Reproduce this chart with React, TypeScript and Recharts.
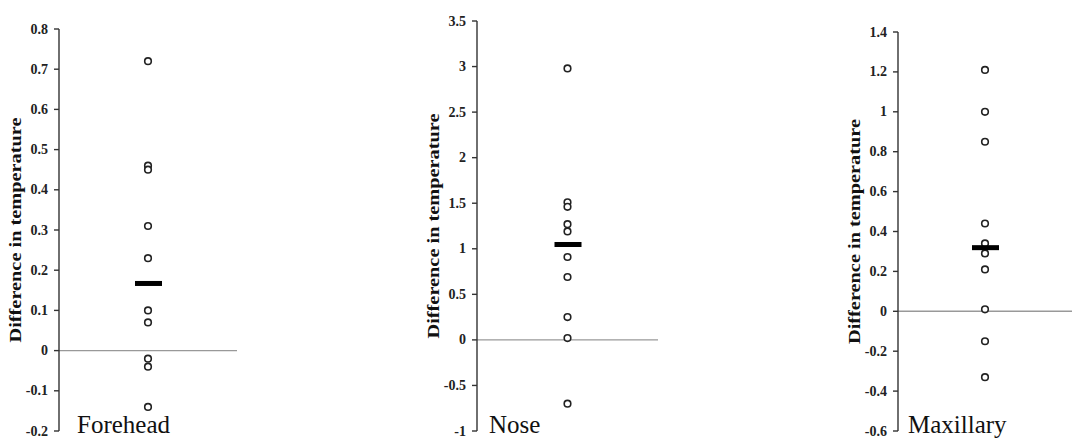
import React from "react";
import { ScatterChart, Scatter, XAxis, YAxis, ReferenceLine, Label } from "recharts";

const CATEGORIES = ["Forehead", "Nose", "Maxillary"];
const FOREHEAD = [0.72, 0.46, 0.45, 0.31, 0.23, 0.1, 0.07, -0.02, -0.04, -0.14];
const NOSE = [2.98, 1.51, 1.46, 1.27, 1.19, 0.91, 0.69, 0.25, 0.02, -0.7];
const MAXILLARY = [1.21, 1.0, 0.85, 0.44, 0.34, 0.29, 0.21, 0.01, -0.15, -0.33];
const MEANS = [0.167, 1.047, 0.319];
const TICKS_FOREHEAD = [-0.2, -0.1, 0, 0.1, 0.2, 0.3, 0.4, 0.5, 0.6, 0.7, 0.8];
const TICKS_NOSE = [-1, -0.5, 0, 0.5, 1, 1.5, 2, 2.5, 3, 3.5];
const TICKS_MAXILLARY = [-0.6, -0.4, -0.2, 0, 0.2, 0.4, 0.6, 0.8, 1, 1.2, 1.4];
const Y_TITLE = "Difference in temperature";

const SERIES = [FOREHEAD, NOSE, MAXILLARY];
const TICKS = [TICKS_FOREHEAD, TICKS_NOSE, TICKS_MAXILLARY];

// layout of each panel (pixels only)
const PANELS = [
  { left: 0, width: 250, yWidth: 59, top: 29, bottom: 8, right: 13, catDx: 18, catDy: 2 },
  { left: 400, width: 270, yWidth: 77, top: 21, bottom: 8, right: 12, catDx: 12, catDy: 2 },
  { left: 800, width: 272, yWidth: 98, top: 32, bottom: 8, right: 0, catDx: 10, catDy: 2 },
];

const FONT = "'Liberation Serif', 'Times New Roman', serif";
const fmt = (v: number) => String(Math.round(v * 10) / 10);

const Dot = (p: any) => (
  <circle cx={p.cx} cy={p.cy} r={3.3} fill="#fff" stroke="#222" strokeWidth={1.6} />
);

const MeanBar = (p: any) => (
  <rect x={p.cx - 13} y={p.cy - 2.5} width={27} height={5} fill="#000" />
);

const YTick = (p: any) => (
  <text
    x={p.x - 4}
    y={p.y}
    textAnchor="end"
    dominantBaseline="central"
    fontFamily={FONT}
    fontWeight="bold"
    fontSize={14}
    fill="#222"
  >
    {fmt(p.payload.value)}
  </text>
);

function Panel({ idx }: { idx: number }) {
  const cfg = PANELS[idx];
  const ticks = TICKS[idx];
  const pts = SERIES[idx].map((y) => ({ x: 1, y }));
  const mean = [{ x: 1, y: MEANS[idx] }];
  return (
    <div style={{ position: "absolute", left: cfg.left, top: 0 }}>
      <ScatterChart
        width={cfg.width}
        height={440}
        margin={{ top: cfg.top, right: cfg.right, bottom: cfg.bottom, left: 0 }}
      >
        <XAxis
          type="number"
          dataKey="x"
          domain={[0, 2]}
          axisLine={false}
          tickLine={false}
          tick={false}
          height={1}
        >
          <Label
            content={(props: any) => {
              const vb = props.viewBox || {};
              return (
                <text
                  x={vb.x + cfg.catDx}
                  y={vb.y + cfg.catDy}
                  fontFamily={FONT}
                  fontSize={25}
                  fill="#111"
                >
                  {CATEGORIES[idx]}
                </text>
              );
            }}
          />
        </XAxis>
        <YAxis
          type="number"
          dataKey="y"
          width={cfg.yWidth}
          domain={[ticks[0], ticks[ticks.length - 1]]}
          ticks={ticks}
          interval={0}
          tickSize={5}
          axisLine={{ stroke: "#333", strokeWidth: 1.4 }}
          tickLine={{ stroke: "#333", strokeWidth: 1.4 }}
          tick={<YTick />}
        >
          <Label
            content={(props: any) => {
              const vb = props.viewBox || {};
              const cx = vb.x + vb.width - 44;
              const cy = vb.y + vb.height / 2;
              return (
                <text
                  x={cx}
                  y={cy}
                  transform={`rotate(-90 ${cx} ${cy})`}
                  textAnchor="middle"
                  dominantBaseline="central"
                  fontFamily={FONT}
                  fontWeight="bold"
                  fontSize={17}
                  textLength={225}
                  lengthAdjust="spacingAndGlyphs"
                  fill="#111"
                >
                  {Y_TITLE}
                </text>
              );
            }}
          />
        </YAxis>
        <ReferenceLine y={0} stroke="#999" strokeWidth={1.4} />
        <Scatter data={pts} shape={Dot} isAnimationActive={false} />
        <Scatter data={mean} shape={MeanBar} isAnimationActive={false} />
      </ScatterChart>
    </div>
  );
}

export default function App() {
  return (
    <div
      style={{
        position: "absolute",
        left: 0,
        top: 0,
        width: 1072,
        height: 440,
        background: "#fff",
        overflow: "hidden",
      }}
    >
      {PANELS.map((_, i) => (
        <Panel key={i} idx={i} />
      ))}
    </div>
  );
}
